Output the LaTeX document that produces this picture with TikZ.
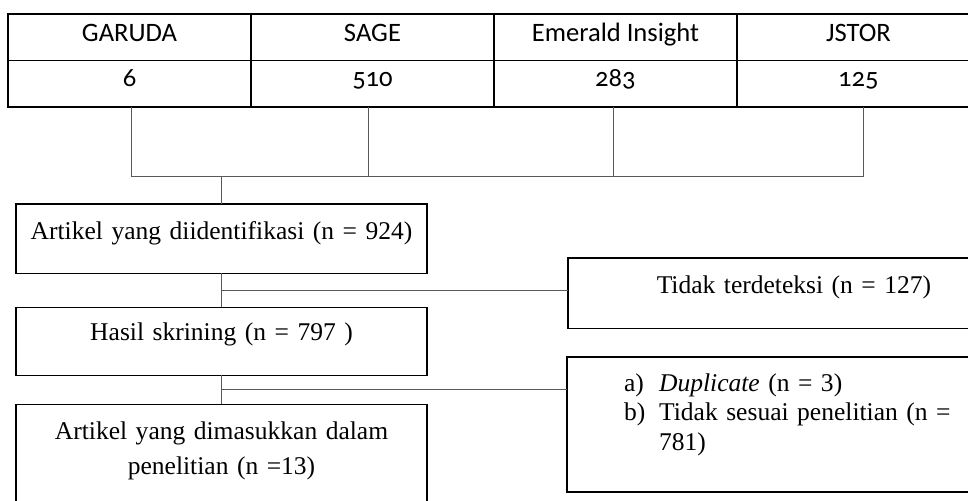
\documentclass[tikz,border=0pt]{standalone}
\usepackage{fontspec}
\setmainfont{Liberation Serif}
\newfontfamily\tablefont{Carlito}[Numbers=OldStyle]
\usetikzlibrary{positioning}
\usetikzlibrary{calc}

\begin{document}
\begin{tikzpicture}[x=0.47pt, y=-0.47pt,
    cell/.style={draw, line width=0.7pt, minimum width=114.2pt, minimum height=21.9pt,
      inner sep=0pt, outer sep=0pt, font=\tablefont\fontsize{12.5}{15}\selectfont},
    head/.style={cell, text height=12.9pt, text depth=8.9pt},
    count/.style={cell, text height=12pt, text depth=9.9pt},
    stage/.style={draw, line width=0.6pt, inner sep=0pt, outer sep=0pt, anchor=north west,
      text width=193.2pt, align=center, font=\fontsize{12}{16.5}\selectfont},
    sidebox/.style={draw, line width=0.6pt, inner sep=0pt, outer sep=0pt, anchor=north west,
      text width=212.4pt, font=\fontsize{12}{14}\selectfont},
    link/.style={draw=black!65, line width=0.47pt},
    ]
    \useasboundingbox (0,0) rectangle (968,501);
    \clip (0,0) rectangle (968,501);

    % sources
    \node[head] (garuda) at (129.5,37.25) {GARUDA};
    \node[head, right=0pt of garuda] (sage) {SAGE};
    \node[head, right=0pt of sage] (emerald) {Emerald Insight};
    \node[head, right=0pt of emerald] (jstor) {JSTOR};
    \node[count, below=0pt of garuda] (n6) {6};
    \node[count, below=0pt of sage] (n510) {510};
    \node[count, below=0pt of emerald] (n283) {283};
    \node[count, below=0pt of jstor] (n125) {125};

    % flow
    \node[stage, text height=16.5pt, text depth=16pt] (ident) at (16,204)
        {Artikel yang diidentifikasi (n = 924)};
    \node[stage, text height=15.5pt, text depth=16.5pt, below=16pt of ident] (skrin)
        {Hasil skrining (n = 797 )};
    \node[stage, text height=16.5pt, text depth=38pt, below=13.6pt of skrin] (incl)
        {Artikel yang dimasukkan dalam\\penelitian (n =13)};

    \node[sidebox, align=center, text height=16.5pt, text depth=16.5pt] (tidak) at (568,258)
        {Tidak terdeteksi (n = 127)};
    \node[sidebox, align=left, text height=16pt, text depth=47.5pt] (excl) at (567,357)
        {\hspace*{26.8pt}\makebox[16.5pt][l]{a)}\textit{Duplicate} (n = 3)\\
         \hspace*{26.8pt}\makebox[16.5pt][l]{b)}Tidak sesuai penelitian (n =\\
         \hspace*{43.3pt}781)};

    % connectors
    \coordinate (bus) at ($(ident.north)+(0,-28)$);
    \foreach \c/\dx in {n6/1.5,n510/-3.5,n283/-1.5,n125/5.5}
        \draw[link] ([xshift=\dx*0.47pt]\c.south) -- ([xshift=\dx*0.47pt]\c.south |- bus);
    \draw[link] ([xshift=0.7pt]n6.south |- bus) -- ([xshift=2.6pt]n125.south |- bus);
    \draw[link] (bus) -- (ident.north);

    \coordinate (b1) at ($(ident.south)!0.5!(skrin.north)$);
    \coordinate (b2) at ($(skrin.south)!0.5!(incl.north)$);
    \draw[link] (ident.south) -- (skrin.north);
    \draw[link] (b1) -- (b1 -| tidak.west);
    \draw[link] (skrin.south) -- (incl.north);
    \draw[link] (b2) -- (b2 -| excl.west);
\end{tikzpicture}
\end{document}
